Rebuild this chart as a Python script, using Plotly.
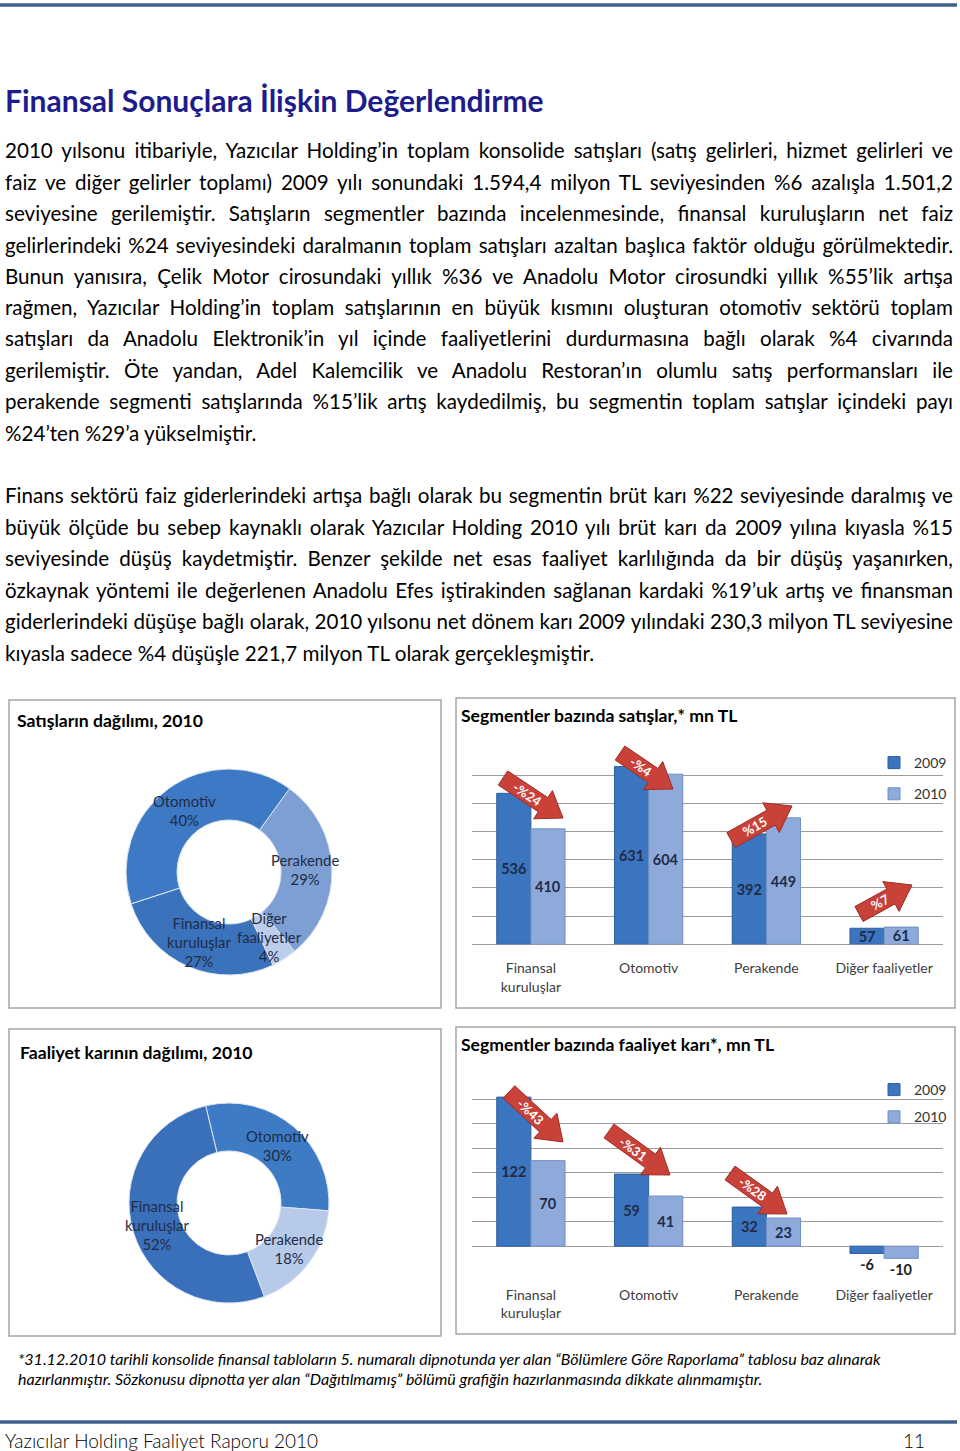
import math
import json
import plotly.graph_objects as go

W, H = 960, 1451

# ---------------- data ----------------
categories = ["Finansal<br>kuruluşlar", "Otomotiv", "Perakende", "Diğer faaliyetler"]
years = ["2009", "2010"]
sales_2009 = [536, 631, 392, 57]
sales_2010 = [410, 604, 449, 61]
sales_change = ["-%24", "-%4", "%15", "%7"]
profit_2009 = [122, 59, 32, -6]
profit_2010 = [70, 41, 23, -10]
profit_change = ["-%43", "-%31", "-%28"]

sales_share_labels = ["Perakende", "Diğer<br>faaliyetler", "Finansal<br>kuruluşlar", "Otomotiv"]
sales_share = [29, 4, 27, 40]
profit_share_labels = ["Otomotiv", "Perakende", "Finansal<br>kuruluşlar"]
profit_share = [30, 18, 52]

page_title = "Finansal Sonuçlara İlişkin Değerlendirme"
para1 = [
    "2010 yılsonu itibariyle, Yazıcılar Holding’in toplam konsolide satışları (satış gelirleri, hizmet gelirleri ve",
    "faiz ve diğer gelirler toplamı) 2009 yılı sonundaki 1.594,4 milyon TL seviyesinden %6 azalışla 1.501,2",
    "seviyesine gerilemiştir. Satışların segmentler bazında incelenmesinde, finansal kuruluşların net faiz",
    "gelirlerindeki %24 seviyesindeki daralmanın toplam satışları azaltan başlıca faktör olduğu görülmektedir.",
    "Bunun yanısıra, Çelik Motor cirosundaki yıllık %36 ve Anadolu Motor cirosundki yıllık %55’lik artışa",
    "rağmen, Yazıcılar Holding’in toplam satışlarının en büyük kısmını oluşturan otomotiv sektörü toplam",
    "satışları da Anadolu Elektronik’in yıl içinde faaliyetlerini durdurmasına bağlı olarak %4 civarında",
    "gerilemiştir. Öte yandan, Adel Kalemcilik ve Anadolu Restoran’ın olumlu satış performansları ile",
    "perakende segmenti satışlarında %15’lik artış kaydedilmiş, bu segmentin toplam satışlar içindeki payı",
    "%24’ten %29’a yükselmiştir.",
]
para2 = [
    "Finans sektörü faiz giderlerindeki artışa bağlı olarak bu segmentin brüt karı %22 seviyesinde daralmış ve",
    "büyük ölçüde bu sebep kaynaklı olarak Yazıcılar Holding 2010 yılı brüt karı da 2009 yılına kıyasla %15",
    "seviyesinde düşüş kaydetmiştir. Benzer şekilde net esas faaliyet karlılığında da bir düşüş yaşanırken,",
    "özkaynak yöntemi ile değerlenen Anadolu Efes iştirakinden sağlanan kardaki %19’uk artış ve finansman",
    "giderlerindeki düşüşe bağlı olarak, 2010 yılsonu net dönem karı 2009 yılındaki 230,3 milyon TL seviyesine",
    "kıyasla sadece %4 düşüşle 221,7 milyon TL olarak gerçekleşmiştir.",
]
footnote = [
    "*31.12.2010 tarihli konsolide finansal tabloların 5. numaralı dipnotunda yer alan “Bölümlere Göre Raporlama” tablosu baz alınarak",
    "hazırlanmıştır. Sözkonusu dipnotta yer alan “Dağıtılmamış” bölümü grafiğin hazırlanmasında dikkate alınmamıştır.",
]
footer_left = "Yazıcılar Holding Faaliyet Raporu 2010"
footer_right = "11"
chart_titles = ["Satışların dağılımı, 2010", "Segmentler bazında satışlar,* mn TL",
                "Faaliyet karının dağılımı, 2010", "Segmentler bazında faaliyet karı*, mn TL"]

# ---------------- helpers ----------------
FONT = "Lato"
def px(x):
    return x / W
def py(y):
    return 1 - y / H

C2009 = "#3b74bf"
C2010 = "#8eaadb"
LBL = "#1f2c47"

fig = go.Figure()

# ---------------- pies ----------------
pie1 = dict(cx=229, cy=872, r=103, hole=0.505, rot=36)
pie2 = dict(cx=229, cy=1203, r=100, hole=0.52, rot=-13.5)

fig.add_trace(go.Pie(
    labels=sales_share_labels, values=sales_share, sort=False, direction="clockwise",
    rotation=pie1["rot"], hole=pie1["hole"], textinfo="none", hoverinfo="label+percent",
    marker=dict(colors=["#7d9fd3", "#bccdea", "#3a72bb", "#3d79c4"], line=dict(color="#dce6f4", width=1)),
    domain=dict(x=[px(pie1["cx"] - pie1["r"]), px(pie1["cx"] + pie1["r"])],
                y=[py(pie1["cy"] + pie1["r"]), py(pie1["cy"] - pie1["r"])]),
    showlegend=False,
))
fig.add_trace(go.Pie(
    labels=profit_share_labels, values=profit_share, sort=False, direction="clockwise",
    rotation=pie2["rot"], hole=pie2["hole"], textinfo="none", hoverinfo="label+percent",
    marker=dict(colors=["#3e7bc5", "#b8cae9", "#3a70b9"], line=dict(color="#dce6f4", width=1)),
    domain=dict(x=[px(pie2["cx"] - pie2["r"]), px(pie2["cx"] + pie2["r"])],
                y=[py(pie2["cy"] + pie2["r"]), py(pie2["cy"] - pie2["r"])]),
    showlegend=False,
))

annotations = []

def pie_labels(p, labels, values):
    total = sum(values)
    cum = 0
    rr = p["r"] * (1 + p["hole"]) / 2 - 1
    for lab, v in zip(labels, values):
        mid = p["rot"] + (cum + v / 2) / total * 360
        cum += v
        a = math.radians(mid)
        x = p["cx"] + rr * math.sin(a)
        y = p["cy"] - rr * math.cos(a)
        annotations.append(dict(x=px(x), y=py(y), xref="paper", yref="paper", showarrow=False,
                                xanchor="center", yanchor="middle",
                                text=f"{lab}<br>{v}%", align="center",
                                font=dict(family=FONT, size=14.8, color=LBL)))

pie_labels(pie1, sales_share_labels, sales_share)
pie_labels(pie2, profit_share_labels, profit_share)

# ---------------- bars ----------------
def bar_text(vals):
    return [str(v) for v in vals]

common_bar = dict(insidetextanchor="middle", constraintext="none", textangle=0, cliponaxis=False,
                  textfont=dict(family=FONT, size=14.5, color=LBL, weight="bold"),
                  outsidetextfont=dict(family=FONT, size=14.5, color="#222222", weight="bold"),
                  hoverinfo="x+y")

fig.add_trace(go.Bar(x=categories, y=sales_2009, name=years[0], marker=dict(color=C2009, line=dict(color="#2f5f9f", width=1)),
                     text=bar_text(sales_2009), textposition="inside",
                     xaxis="x", yaxis="y", legend="legend", legendgroup="a", **common_bar))
fig.add_trace(go.Bar(x=categories, y=sales_2010, name=years[1], marker=dict(color=C2010, line=dict(color="#7090c0", width=1)),
                     text=bar_text(sales_2010), textposition="inside",
                     xaxis="x", yaxis="y", legend="legend", legendgroup="b", **common_bar))

ppos = ["inside" if v >= 0 else "outside" for v in profit_2009]
fig.add_trace(go.Bar(x=categories, y=profit_2009, name=years[0], marker=dict(color=C2009, line=dict(color="#2f5f9f", width=1)),
                     text=bar_text(profit_2009), textposition=ppos,
                     xaxis="x2", yaxis="y2", legend="legend2", legendgroup="c", **common_bar))
fig.add_trace(go.Bar(x=categories, y=profit_2010, name=years[1], marker=dict(color=C2010, line=dict(color="#7090c0", width=1)),
                     text=bar_text(profit_2010), textposition=ppos,
                     xaxis="x2", yaxis="y2", legend="legend2", legendgroup="d", **common_bar))

# ---------------- shapes ----------------
shapes = []
def rect(x0, y0, x1, y1, color="#a6a6a6", width=1.5):
    shapes.append(dict(type="rect", xref="paper", yref="paper", x0=px(x0), x1=px(x1), y0=py(y1), y1=py(y0),
                       line=dict(color=color, width=width), fillcolor="rgba(0,0,0,0)", layer="below"))

def hline(x0, x1, y, color, width):
    shapes.append(dict(type="line", xref="paper", yref="paper", x0=px(x0), x1=px(x1), y0=py(y), y1=py(y),
                       line=dict(color=color, width=width)))

hline(0, 957, 5, "#41618c", 3.5)
hline(0, 957, 1422, "#41618c", 3.5)
rect(9, 700, 441, 1008)
rect(456, 698, 955, 1008)
rect(9, 1029, 441, 1336)
rect(456, 1027, 955, 1334)

def arrow(x0, y0, x1, y1, label, sw=17, hw=34, hl=24):
    L = math.hypot(x1 - x0, y1 - y0)
    ux, uy = (x1 - x0) / L, (y1 - y0) / L
    nx, ny = -uy, ux
    bx, by = x1 - ux * hl, y1 - uy * hl
    pts = [(x0 + nx * sw / 2, y0 + ny * sw / 2), (bx + nx * sw / 2, by + ny * sw / 2),
           (bx + nx * hw / 2, by + ny * hw / 2), (x1, y1),
           (bx - nx * hw / 2, by - ny * hw / 2), (bx - nx * sw / 2, by - ny * sw / 2),
           (x0 - nx * sw / 2, y0 - ny * sw / 2)]
    path = "M " + " L ".join(f"{px(x):.5f},{py(y):.5f}" for x, y in pts) + " Z"
    shapes.append(dict(type="path", xref="paper", yref="paper", path=path,
                       fillcolor="#c8423a", line=dict(color="#9e2d26", width=1), layer="above"))
    tx, ty = x0 + 0.4 * (x1 - x0), y0 + 0.4 * (y1 - y0)
    ang = math.degrees(math.atan2(y1 - y0, x1 - x0))
    annotations.append(dict(x=px(tx), y=py(ty), xref="paper", yref="paper", showarrow=False,
                            xanchor="center", yanchor="middle",
                            text=f"<b>{label}</b>", textangle=ang,
                            font=dict(family=FONT, size=13, color="white")))

sales_arrows = [((503, 778), (563, 818)), ((620, 753), (673, 789)), ((731, 840), (792, 806)), ((859, 914), (912, 885))]
for (a, b), lab in zip(sales_arrows, sales_change):
    arrow(a[0], a[1], b[0], b[1], lab)
profit_arrows = [((509, 1092), (563, 1142)), ((609, 1131), (670, 1175)), ((730, 1173), (787, 1214))]
for (a, b), lab in zip(profit_arrows, profit_change):
    arrow(a[0], a[1], b[0], b[1], lab)

# ---------------- text ----------------
def text(x, y, s, size, color="#000000", bold=False, italic=False, anchor="left", weight=None):
    annotations.append(dict(x=px(x), y=py(y), xref="paper", yref="paper", showarrow=False,
                            xanchor=anchor, yanchor="middle", align=anchor, text=s,
                            font=dict(family=FONT, size=size, color=color,
                                      weight=(weight if weight else ("bold" if bold else "normal")),
                                      style=("italic" if italic else "normal"))))

BODY = 20.6
text(3, 100, page_title, 30, color="#1c1c8c", bold=True)
ys1 = [150, 182, 213, 245, 276, 307, 338, 370, 401, 433]
ys2 = [495, 527, 558, 590, 621, 653]
for ln, y in zip(para1, ys1):
    text(3, y, ln, BODY)
for ln, y in zip(para2, ys2):
    text(3, y, ln, BODY)

# lines that are justified in the reference (all but the last of each paragraph)
justified = para1[:-1] + para2[:-1]
JUSTIFY_WIDTH = 948

text(15, 720, chart_titles[0], 17.6, bold=True)
text(459, 715, chart_titles[1], 17.6, bold=True)
text(18, 1052, chart_titles[2], 17.6, bold=True)
text(459, 1044, chart_titles[3], 17.6, bold=True)

text(16, 1358, footnote[0], 16, italic=True)
text(16, 1378, footnote[1], 16, italic=True)
text(3, 1440, footer_left, 19, weight=300)
text(927, 1440, footer_right, 19, anchor="right", weight=300)

# ---------------- layout ----------------
grid = "#9c9c9c"
axis_x = dict(showgrid=False, zeroline=False, showline=False, ticks="", fixedrange=True,
              tickfont=dict(family=FONT, size=14, color="#404040"), ticklabelstandoff=14)
fig.update_layout(
    width=W, height=H, margin=dict(l=0, r=0, t=0, b=0),
    paper_bgcolor="white", plot_bgcolor="rgba(0,0,0,0)",
    barmode="group", bargap=0.42, bargroupgap=0,
    font=dict(family=FONT),
    xaxis=dict(domain=[px(472), px(943)], anchor="y", **axis_x),
    yaxis=dict(domain=[py(944.3), py(747)], range=[0, 700.5], dtick=100, showticklabels=False,
               gridcolor=grid, gridwidth=1.2, zeroline=True, zerolinecolor=grid, zerolinewidth=1.2, fixedrange=True),
    xaxis2=dict(domain=[px(472), px(943)], anchor="y2", **axis_x),
    yaxis2=dict(domain=[py(1270.7), py(1075)], range=[-20.1, 140.1], dtick=20, showticklabels=False,
                gridcolor=grid, gridwidth=1.2, zeroline=True, zerolinecolor=grid, zerolinewidth=1.2, fixedrange=True),
    legend=dict(x=px(874), y=py(747), xanchor="left", yanchor="top", bgcolor="rgba(0,0,0,0)",
                font=dict(family=FONT, size=14, color="#333333"), tracegroupgap=10, itemwidth=30),
    legend2=dict(x=px(874), y=py(1074), xanchor="left", yanchor="top", bgcolor="rgba(0,0,0,0)",
                 font=dict(family=FONT, size=14, color="#333333"), tracegroupgap=6, itemwidth=30),
    shapes=shapes, annotations=annotations,
)

post_js = """
document.body.style.margin = '0px';
var gd = document.getElementById('{plot_id}');
var targets = %s;
var W = %d;
gd.querySelectorAll('g.annotation text').forEach(function(t) {
    var s = t.textContent;
    if (targets.indexOf(s) >= 0) {
        var w = t.getComputedTextLength();
        var n = (s.match(/ /g) || []).length;
        if (n > 0 && w < W) { t.style.wordSpacing = ((W - w) / n) + 'px'; }
    }
});
""" % (json.dumps(justified, ensure_ascii=False), JUSTIFY_WIDTH)

fig.write_html("out.html", post_script=post_js, config={"displayModeBar": False})
